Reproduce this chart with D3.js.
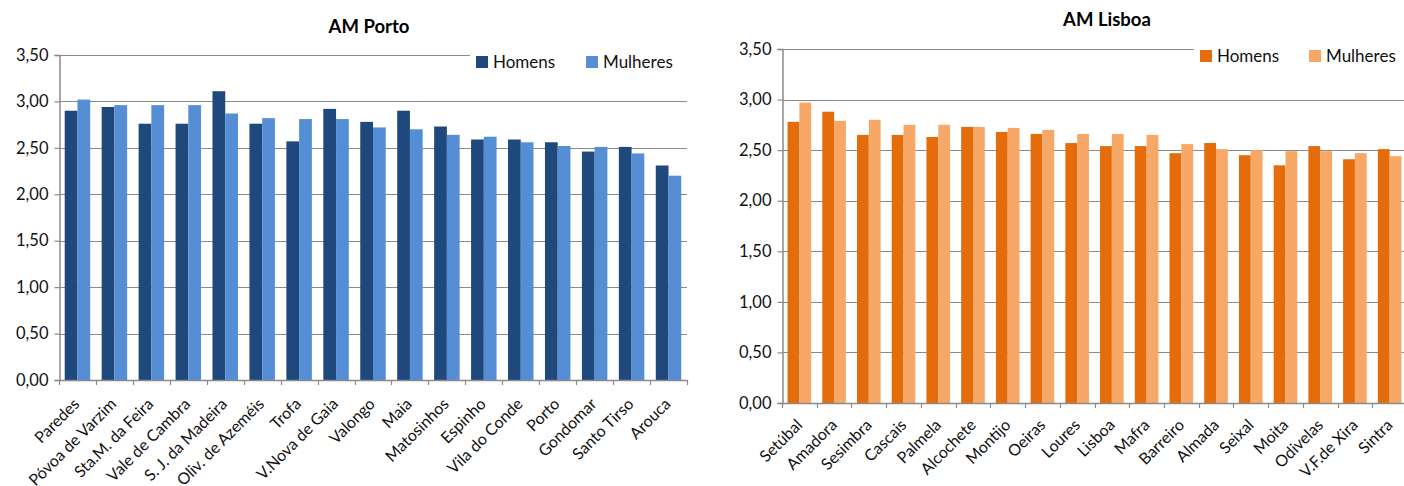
<!DOCTYPE html>
<html><head><meta charset="utf-8">
<script src="https://cdn.jsdelivr.net/npm/d3@7/dist/d3.min.js"></script>
<style>
html,body{margin:0;padding:0;background:#fff;}
svg{display:block;font-family:Lato,"Open Sans",sans-serif;}
</style></head>
<body>
<svg id="chart" width="1404" height="486"></svg>
<script>
// ---- Data ----
const seriesNames = ["Homens", "Mulheres"];
const yTicks = [0, 0.5, 1, 1.5, 2, 2.5, 3, 3.5];

const portoCategories = ["Paredes","Póvoa de Varzim","Sta.M. da Feira","Vale de Cambra","S. J. da Madeira","Oliv. de Azeméis","Trofa","V.Nova de Gaia","Valongo","Maia","Matosinhos","Espinho","Vila do Conde","Porto","Gondomar","Santo Tirso","Arouca"];
const portoHomens   = [2.90,2.94,2.76,2.76,3.11,2.76,2.57,2.92,2.78,2.90,2.73,2.59,2.59,2.56,2.46,2.51,2.31];
const portoMulheres = [3.02,2.96,2.96,2.96,2.87,2.82,2.81,2.81,2.72,2.70,2.64,2.62,2.56,2.52,2.51,2.44,2.20];

const lisboaCategories = ["Setúbal","Amadora","Sesimbra","Cascais","Palmela","Alcochete","Montijo","Oeiras","Loures","Lisboa","Mafra","Barreiro","Almada","Seixal","Moita","Odivelas","V.F.de Xira","Sintra"];
const lisboaHomens   = [2.78,2.88,2.65,2.65,2.63,2.73,2.68,2.66,2.57,2.54,2.54,2.47,2.57,2.45,2.35,2.54,2.41,2.51];
const lisboaMulheres = [2.97,2.79,2.80,2.75,2.75,2.73,2.72,2.70,2.66,2.66,2.65,2.56,2.51,2.50,2.49,2.49,2.47,2.44];

const fmt = v => d3.format(".2f")(v).replace(".", ",");

const svg = d3.select("#chart");

function drawChart(cfg) {
  const g = svg.append("g");
  const rows = cfg.categories.map((c, i) => ({cat: c, values: [cfg.homens[i], cfg.mulheres[i]]}));
  const x0 = d3.scaleBand().domain(cfg.categories).range([cfg.left, cfg.right])
    .paddingInner(cfg.pad).paddingOuter(cfg.pad / 2);
  const x1 = d3.scaleBand().domain(seriesNames).range([0, x0.bandwidth()]);
  const y = d3.scaleLinear().domain([0, 3.5]).range([cfg.bottom, cfg.top]);
  const step = x0.step();

  // gridlines
  g.append("g").selectAll("line").data(yTicks.filter(t => t > 0)).join("line")
    .attr("x1", cfg.left).attr("x2", cfg.right)
    .attr("y1", d => Math.round(y(d)) + 0.5).attr("y2", d => Math.round(y(d)) + 0.5)
    .attr("stroke", "#8a8a8a").attr("stroke-width", 1.2);

  // y axis
  const yAxis = d3.axisLeft(y).tickValues(yTicks).tickFormat(fmt).tickSize(5).tickPadding(6);
  const ya = g.append("g").attr("transform", `translate(${cfg.left + 0.5},0)`).call(yAxis);
  ya.select(".domain").attr("stroke", "#8a8a8a").attr("stroke-width", 1.5);
  ya.selectAll(".tick line").attr("stroke", "#8a8a8a").attr("stroke-width", 1.2);
  ya.selectAll(".tick text").attr("font-size", 16.5).attr("fill", "#111").attr("font-family", "Lato");

  // bars
  g.append("g").selectAll("g").data(rows).join("g")
    .attr("transform", d => `translate(${x0(d.cat)},0)`)
    .selectAll("rect").data(d => d.values.map((v, k) => ({k, v}))).join("rect")
    .attr("x", d => x1(seriesNames[d.k]))
    .attr("width", x1.bandwidth())
    .attr("y", d => y(d.v))
    .attr("height", d => y(0) - y(d.v))
    .attr("fill", d => cfg.colors[d.k]);

  // x axis line
  g.append("line").attr("x1", cfg.left).attr("x2", cfg.right)
    .attr("y1", Math.round(y(0)) + 0.5).attr("y2", Math.round(y(0)) + 0.5)
    .attr("stroke", "#8a8a8a").attr("stroke-width", 1.5);
  // category boundary ticks
  const bounds = cfg.categories.map(c => x0(c) - step * cfg.pad / 2).concat([cfg.right]);
  g.append("g").selectAll("line").data(bounds).join("line")
    .attr("x1", d => Math.round(d) + 0.5).attr("x2", d => Math.round(d) + 0.5)
    .attr("y1", y(0)).attr("y2", y(0) + 5)
    .attr("stroke", "#8a8a8a").attr("stroke-width", 1.2);

  // x labels
  g.append("g").selectAll("text").data(cfg.categories).join("text")
    .attr("transform", d => `translate(${x0(d) + x0.bandwidth() / 2 + cfg.lblDx},${y(0) + cfg.lblDy}) rotate(-45)`)
    .attr("text-anchor", "end")
    .attr("font-size", 16).attr("fill", "#111")
    .text(d => d);

  // legend background & entries
  g.append("rect").attr("x", cfg.legendX - 6).attr("y", cfg.legendY - 14)
    .attr("width", cfg.legendW).attr("height", 28).attr("fill", "#fff");
  seriesNames.forEach((s, k) => {
    const lx = cfg.legendX + k * cfg.legendGap;
    g.append("rect").attr("x", lx).attr("y", cfg.legendY - 6).attr("width", 12).attr("height", 12)
      .attr("fill", cfg.colors[k]);
    g.append("text").attr("x", lx + 17).attr("y", cfg.legendY + 6)
      .attr("font-size", 17).attr("fill", "#111").text(s);
  });

  // title
  g.append("text").attr("x", cfg.titleX).attr("y", cfg.titleY)
    .attr("text-anchor", "middle").attr("font-size", 18.5).attr("font-weight", "bold")
    .attr("fill", "#000").text(cfg.title);
}

drawChart({
  title: "AM Porto", titleX: 369, titleY: 33,
  categories: portoCategories, homens: portoHomens, mulheres: portoMulheres,
  left: 59, right: 687, top: 55, bottom: 380, pad: 0.31,
  colors: ["#1f497d", "#558ed5"],
  legendX: 476, legendY: 62, legendGap: 110, legendW: 220,
  lblDx: 3, lblDy: 25
});

drawChart({
  title: "AM Lisboa", titleX: 1107, titleY: 26,
  categories: lisboaCategories, homens: lisboaHomens, mulheres: lisboaMulheres,
  left: 782, right: 1407, top: 49, bottom: 403, pad: 0.32,
  colors: ["#e46c0a", "#f7a866"],
  legendX: 1200, legendY: 56, legendGap: 109, legendW: 215,
  lblDx: 4, lblDy: 23
});
</script>
</body></html>
